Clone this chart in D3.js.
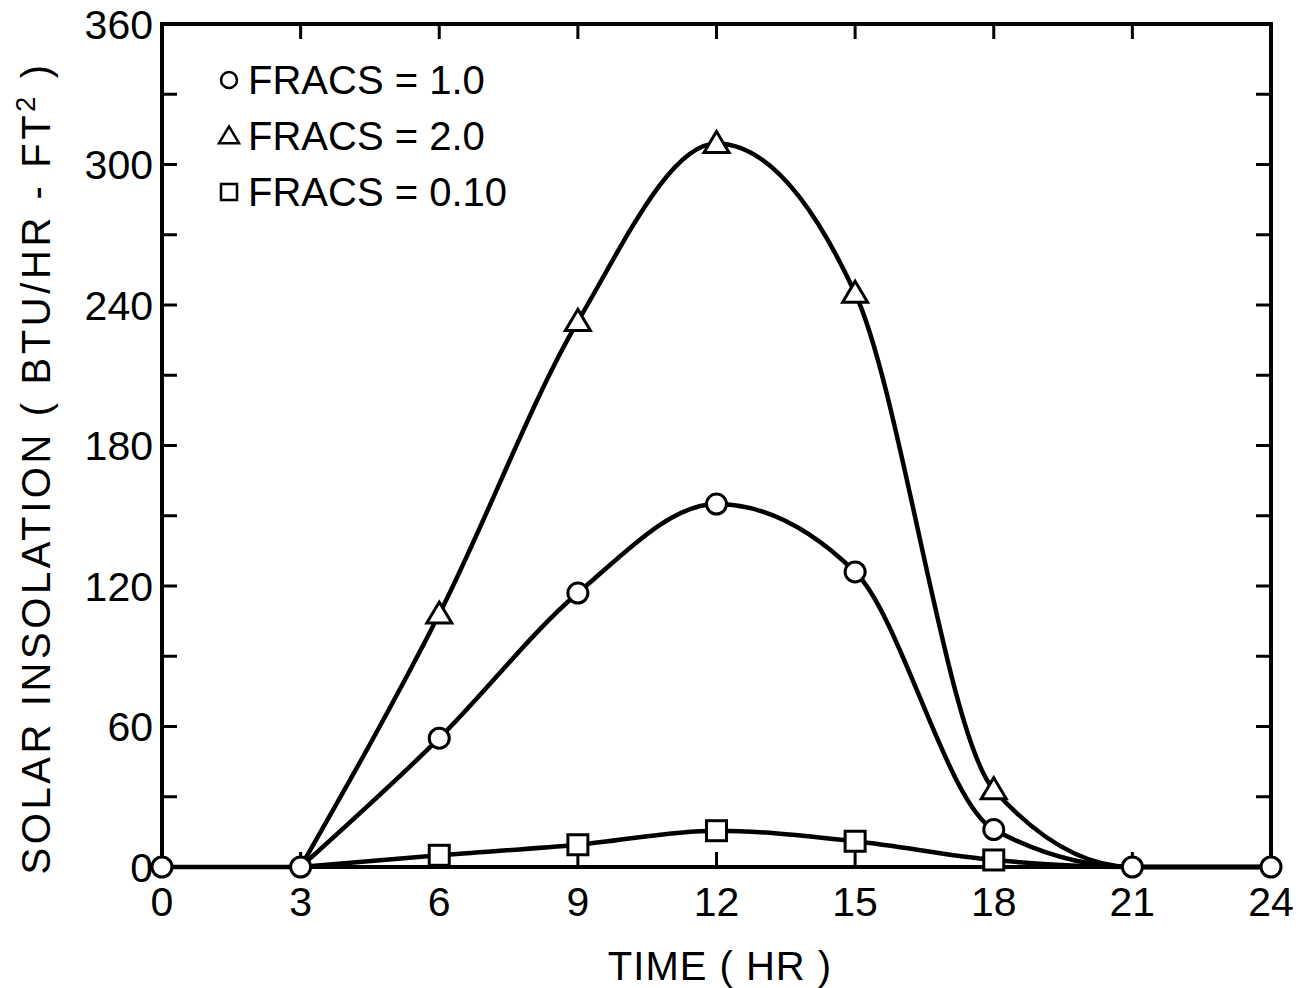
<!DOCTYPE html>
<html>
<head>
<meta charset="utf-8">
<script src="https://cdn.jsdelivr.net/npm/d3@7"></script>
<style>
  body { margin: 0; background: #fff; }
  svg { display: block; }
  text { font-family: "Liberation Sans", Arial, sans-serif; fill: #000; }
</style>
</head>
<body>
<svg width="1302" height="988"></svg>
<script>
// time of day (hr) and insolation values
const hours = [0, 3, 6, 9, 12, 15, 18, 21, 24]
const fracs10  = [0, 0, 55, 117, 155, 126, 16, 0, 0]   // circles
const fracs20  = [0, 0, 108, 233, 309, 245, 33, 0, 0]  // triangles
const fracs010 = [0, 0, 5, 9.5, 15.5, 11, 3, 0, 0]     // squares

const xTicks = [0, 3, 6, 9, 12, 15, 18, 21, 24]
const yTicks = [0, 60, 120, 180, 240, 300, 360]
const yMinor = d3.range(0, 361, 30)
const legendLabels = ["FRACS = 1.0", "FRACS = 2.0", "FRACS = 0.10"]

const mLeft = 162, mRight = 1271, mTop = 24, mBottom = 867

const x = d3.scaleLinear().domain([0, 24]).range([mLeft, mRight])
const y = d3.scaleLinear().domain([0, 360]).range([mBottom, mTop])

const svg = d3.select("svg")

// frame
svg.append("rect")
  .attr("x", mLeft).attr("y", mTop)
  .attr("width", mRight - mLeft).attr("height", mBottom - mTop)
  .attr("fill", "none").attr("stroke", "#000").attr("stroke-width", 4)

const tickLen = 15
const ticks = svg.append("g").attr("stroke", "#000").attr("stroke-width", 3)

// left + right ticks (inward)
yMinor.filter(v => v > 0 && v < 360).forEach(v => {
  ticks.append("line").attr("x1", x(0)).attr("x2", x(0) + tickLen).attr("y1", y(v)).attr("y2", y(v))
  ticks.append("line").attr("x1", x(24)).attr("x2", x(24) - tickLen).attr("y1", y(v)).attr("y2", y(v))
})
// top + bottom ticks (inward)
xTicks.filter(v => v > 0 && v < 24).forEach(v => {
  ticks.append("line").attr("x1", x(v)).attr("x2", x(v)).attr("y1", y(360)).attr("y2", y(360) + tickLen)
  ticks.append("line").attr("x1", x(v)).attr("x2", x(v)).attr("y1", y(0)).attr("y2", y(0) - tickLen)
})

// tick labels
svg.append("g").selectAll("text")
  .data(yTicks)
  .join("text")
  .attr("x", mLeft - 9)
  .attr("y", d => y(d))
  .attr("dy", "0.36em")
  .attr("text-anchor", "end")
  .attr("font-size", 41)
  .text(d => d)

svg.append("g").selectAll("text")
  .data(xTicks)
  .join("text")
  .attr("x", d => x(d))
  .attr("y", mBottom + 49)
  .attr("text-anchor", "middle")
  .attr("font-size", 41)
  .text(d => d)

// axis titles
svg.append("text")
  .attr("x", 720).attr("y", 980)
  .attr("text-anchor", "middle")
  .attr("font-size", 40)
  .attr("letter-spacing", 1)
  .text("TIME ( HR )")

const yt = svg.append("text")
  .attr("transform", "translate(50," + 468 + ") rotate(-90)")
  .attr("text-anchor", "middle")
  .attr("font-size", 40)
  .attr("letter-spacing", 3.6)
yt.append("tspan").text("SOLAR INSOLATION ( BTU/HR - FT")
yt.append("tspan").attr("font-size", 27).attr("dy", -15).text("2")
yt.append("tspan").attr("dy", 15).text(" )")

// curves
const series = [
  { vals: fracs10, shape: "circle" },
  { vals: fracs20, shape: "triangle" },
  { vals: fracs010, shape: "square" }
]

const line = d3.line()
  .x(d => x(d[0]))
  .y(d => y(d[1]))
  .curve(d3.curveMonotoneX)

series.forEach(s => {
  const pts = hours.map((h, i) => [h, s.vals[i]]).filter(d => d[0] >= 3)
  svg.append("path")
    .attr("d", line(pts))
    .attr("fill", "none")
    .attr("stroke", "#000")
    .attr("stroke-width", 4.5)
})
// baseline 0-3 hr
svg.append("line")
  .attr("x1", x(0)).attr("x2", x(3)).attr("y1", y(0)).attr("y2", y(0))
  .attr("stroke", "#000").attr("stroke-width", 4.5)

function marker(g, shape, cx, cy, size) {
  if (shape === "circle") {
    g.append("circle").attr("cx", cx).attr("cy", cy).attr("r", size)
  } else if (shape === "triangle") {
    const h = size * 2
    g.append("path").attr("d", `M${cx},${cy - h * 0.6}L${cx + size * 1.25},${cy + h * 0.45}L${cx - size * 1.25},${cy + h * 0.45}Z`)
  } else {
    g.append("rect").attr("x", cx - size).attr("y", cy - size).attr("width", size * 2).attr("height", size * 2)
  }
}

const marks = svg.append("g").attr("fill", "#fff").attr("stroke", "#000").attr("stroke-width", 3)
series.forEach(s => {
  hours.forEach((h, i) => {
    if (s.shape !== "circle" && s.vals[i] === 0) return
    marker(marks, s.shape, x(h), y(s.vals[i]), 10)
  })
})

// legend
const legend = svg.append("g")
legendLabels.forEach((lab, i) => {
  const ly = 80 + i * 56
  const g = legend.append("g").attr("fill", "#fff").attr("stroke", "#000").attr("stroke-width", 2.5)
  marker(g, series[i].shape, 229, ly, 8)
  legend.append("text")
    .attr("x", 248).attr("y", ly)
    .attr("dy", "0.36em")
    .attr("font-size", 40)
    .text(lab)
})
</script>
</body>
</html>
